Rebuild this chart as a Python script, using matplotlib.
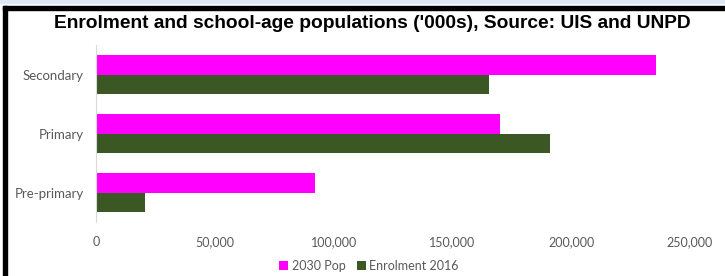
import matplotlib.pyplot as plt
from matplotlib.patches import Rectangle
from matplotlib.ticker import FuncFormatter
import numpy as np

categories = ["Pre-primary", "Primary", "Secondary"]
pop_2030 = [92000, 170000, 235500]
enrol_2016 = [20500, 191000, 165500]

fig = plt.figure(figsize=(7.25, 2.76), dpi=100)
ax = fig.add_axes([96 / 725, 1 - 222 / 276, 594 / 725, 177 / 276])

y = np.arange(len(categories))
h = 0.33
ax.barh(y + h / 2, pop_2030, height=h, color="#FF00FF", label="2030 Pop")
ax.barh(y - h / 2, enrol_2016, height=h, color="#3A5724", label="Enrolment 2016")

ax.set_xlim(0, 250000)
ax.set_ylim(-0.5, 2.5)
ax.set_yticks(y)
ax.set_yticklabels(categories)
ax.set_xticks(np.arange(0, 250001, 50000))
ax.xaxis.set_major_formatter(FuncFormatter(lambda v, p: f"{int(v):,}"))
for s in ["top", "right", "bottom"]:
    ax.spines[s].set_visible(False)
ax.spines["left"].set_color("#D9D9D9")
ax.tick_params(length=0, labelcolor="#595959")
ax.tick_params(axis="y", labelsize=9.5, pad=9)
ax.tick_params(axis="x", labelsize=9, pad=10)
for lab in ax.get_xticklabels() + ax.get_yticklabels():
    lab.set_fontfamily("Lato")

fig.text(0.513, 1 - 23 / 276, "Enrolment and school-age populations ('000s), Source: UIS and UNPD",
         ha="center", va="center", fontsize=13.8, fontweight="bold", family="Liberation Sans")

leg = fig.legend(loc="center", bbox_to_anchor=(369 / 725, 1 - 266 / 276), ncol=2, frameon=False,
                 prop={"family": "Lato", "size": 9}, handlelength=0.7, handleheight=0.7,
                 handletextpad=0.3, columnspacing=0.9, labelcolor="#595959")

# frame pieces from the original screenshot
fig.patches.append(Rectangle((0, 1 - 2.5 / 276), 1, 2.5 / 276, transform=fig.transFigure,
                             color="#DDE8F4", zorder=0))
fig.patches.append(Rectangle((3 / 725, 0), 4 / 725, 1 - 6 / 276, transform=fig.transFigure,
                             color="black", zorder=5))
fig.patches.append(Rectangle((3 / 725, 1 - 10 / 276), 1, 4 / 276, transform=fig.transFigure,
                             color="black", zorder=5))

fig.savefig("out.png", dpi=100)
